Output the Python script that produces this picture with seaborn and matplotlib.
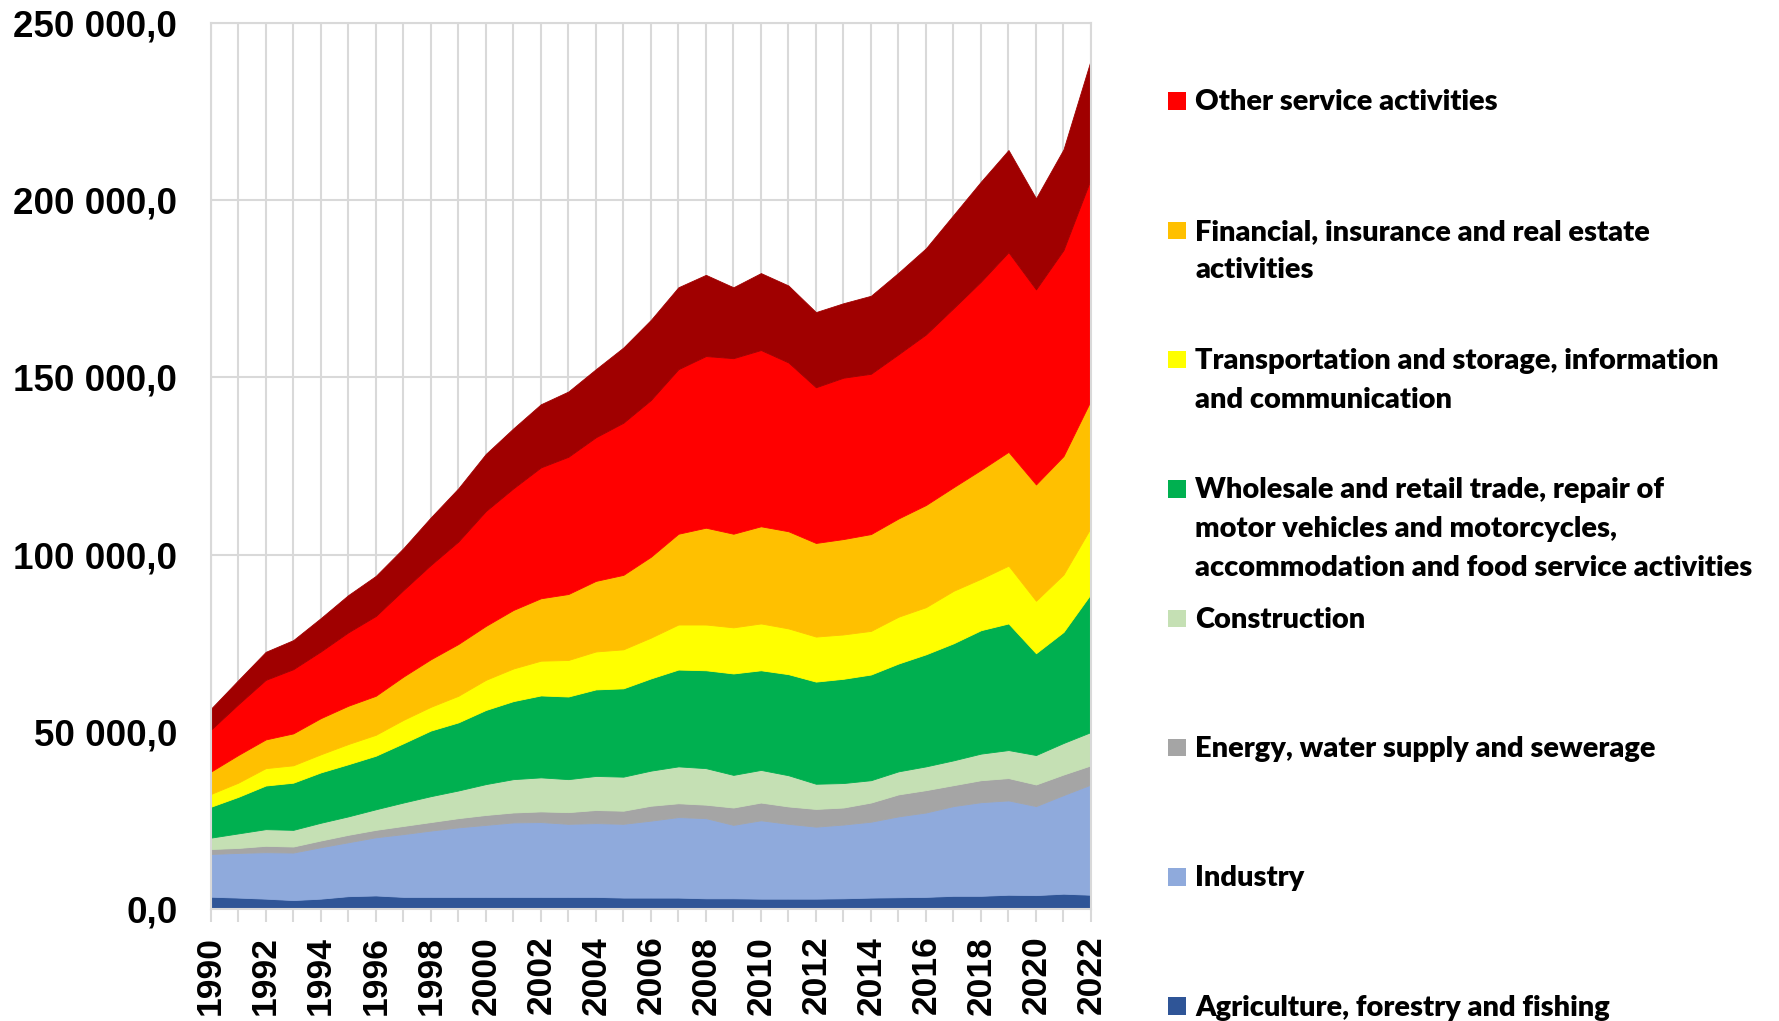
import numpy as np
import pandas as pd
import matplotlib
matplotlib.use("Agg")
import matplotlib.pyplot as plt
import seaborn as sns
from matplotlib.ticker import FuncFormatter
from matplotlib.patches import Rectangle

# ---------------- data ----------------
years = list(range(1990, 2023))

agriculture = [3550, 3300, 3000, 2600, 3000, 3700, 3900, 3500, 3500, 3500, 3500,
               3500, 3500, 3500, 3500, 3300, 3300, 3300, 3100, 3100, 3000, 3000,
               3000, 3100, 3300, 3400, 3500, 3800, 3800, 4100, 4000, 4400, 4100]
industry = [12050, 12600, 13100, 13400, 14500, 15200, 16400, 17700, 18700, 19600, 20300,
            21000, 21100, 20600, 20800, 20800, 21700, 22700, 22600, 20700, 22100, 21100,
            20300, 20800, 21400, 22800, 23800, 25300, 26400, 26600, 25100, 27800, 31100]
energy = [1400, 1400, 1800, 1700, 1900, 2100, 2100, 2300, 2400, 2600, 2800,
          2800, 3000, 3300, 3700, 3700, 4200, 3900, 3800, 4900, 5000, 4900,
          5000, 4800, 5400, 6200, 6300, 5900, 6200, 6300, 6100, 5800, 5400]
construction = [3200, 4100, 4700, 4700, 5000, 5200, 5800, 6600, 7300, 7800, 8700,
                9400, 9600, 9300, 9600, 9600, 9900, 10400, 10300, 9200, 9200, 8800,
                7100, 6900, 6300, 6500, 6700, 7000, 7500, 7900, 8300, 8900, 9400]
wholesale = [8700, 10300, 12300, 13300, 14200, 14700, 15100, 16700, 18500, 19200, 20900,
             22000, 23100, 23300, 24400, 24900, 26000, 27300, 27600, 28600, 28100, 28500,
             28800, 29400, 29800, 30400, 31600, 33000, 34800, 35700, 28700, 31300, 39000]
transport = [3600, 4000, 4900, 4900, 5100, 5700, 5900, 6600, 6700, 7500, 8500,
             9200, 9800, 10300, 10700, 11000, 11500, 12700, 12900, 13000, 13200, 12900,
             12700, 12500, 12300, 13200, 13300, 14800, 14500, 16300, 14800, 16200, 18700]
financial = [6300, 7800, 8100, 9000, 10200, 10800, 11000, 12200, 13400, 14600, 15200,
             16500, 17600, 18600, 19900, 21000, 22800, 25600, 27300, 26400, 27400, 27400,
             26400, 26900, 27300, 27700, 28800, 29200, 30700, 32100, 32800, 33400, 35900]
other_services = [11800, 14300, 16800, 18100, 18800, 20700, 22500, 24400, 26600, 28900, 32400,
                  34300, 36900, 38700, 40500, 42900, 44200, 46400, 48400, 49500, 49700, 47600,
                  43900, 45500, 45200, 46300, 48100, 50500, 53100, 56300, 55000, 58100, 62500]
top_layer = [5900, 6800, 7900, 8200, 9400, 10500, 11300, 11800, 13400, 15000, 16100,
             16900, 17800, 18400, 19200, 21200, 22600, 23100, 22900, 20000, 21700, 21700,
             21200, 21000, 22000, 23000, 24300, 26300, 28200, 28800, 25700, 28400, 33600]

series_names = [
    "Agriculture, forestry and fishing",
    "Industry",
    "Energy, water supply and sewerage",
    "Construction",
    "Wholesale and retail trade, repair of\nmotor vehicles and motorcycles,\naccommodation and food service activities",
    "Transportation and storage, information\nand communication",
    "Financial, insurance and real estate\nactivities",
    "Other service activities",
]
series_values = [agriculture, industry, energy, construction, wholesale,
                 transport, financial, other_services, top_layer]
colors = ["#2F5597", "#8FAADC", "#A5A5A5", "#C5E0B4", "#00B050",
          "#FFFF00", "#FFC000", "#FF0000", "#A00000"]

y_ticks = [0, 50000, 100000, 150000, 200000, 250000]

# ---------------- figure ----------------
sns.set_theme(style="white")
plt.rcParams["font.family"] = ["Liberation Sans", "DejaVu Sans"]

W, H = 1779, 1021
fig = plt.figure(figsize=(W / 100, H / 100), dpi=100)
ax = fig.add_axes([210.7 / W, (H - 909.3) / H, 880.3 / W, 886.6 / H])

polys = ax.stackplot(years, *series_values, colors=colors, linewidth=0.6, zorder=2)
for p, c in zip(polys, colors):
    p.set_edgecolor(c)

ax.set_xlim(years[0], years[-1])
ax.set_ylim(0, 250000)
ax.set_axisbelow(True)

ax.set_xticks(years)
ax.set_xticklabels([str(y) if (y % 2 == 0) else "" for y in years],
                   rotation=90, fontsize=25.5, fontweight="bold",
                   family=["Liberation Sans", "DejaVu Sans"])
ax.set_yticks(y_ticks)
ax.yaxis.set_major_formatter(FuncFormatter(
    lambda v, pos: f"{v:,.1f}".replace(",", " ").replace(".", ",")))
for lab in ax.get_yticklabels():
    lab.set_fontsize(26.5)
    lab.set_fontweight("bold")

grid_c = "#D9D9D9"
ax.grid(True, axis="both", color=grid_c, linewidth=1.5, zorder=0)
ax.tick_params(axis="x", which="major", direction="out", length=9,
               width=1.5, color=grid_c, pad=10, labelcolor="black", bottom=True)
ax.tick_params(axis="y", length=0, pad=24, labelcolor="black")
for s in ax.spines.values():
    s.set_color(grid_c)
    s.set_linewidth(1.5)
    s.set_zorder(3)

# ---------------- legend (manual, equally spaced slots) ----------------
legend_font = ["Lato", "DejaVu Sans"]
legend_weight = "heavy"
fig.canvas.draw()
renderer = fig.canvas.get_renderer()
probe = fig.text(0, 0, "Other service activities", fontsize=20,
                 fontweight=legend_weight, family=legend_font)
wpx = probe.get_window_extent(renderer).width
probe.remove()
lfs = 20 * 304.0 / wpx

slot0, slot_step, line_step = 100.0, 129.3, 38.6
legend_entries = list(zip(series_names[::-1], colors[-2::-1]))
cap_px = 0.72 * lfs * 100 / 72
for k, (name, col) in enumerate(legend_entries):
    yc = slot0 + slot_step * k
    fig.patches.append(Rectangle((1168.3 / W, 1 - (yc + 1 + 8.8) / H),
                                 17.5 / W, 17.5 / H, transform=fig.transFigure,
                                 facecolor=col, edgecolor="none"))
    for i, line in enumerate(name.split("\n")):
        yl = yc + line_step * i
        fig.text(1195 / W, 1 - (yl + cap_px / 2) / H, line, fontsize=lfs,
                 fontweight=legend_weight, family=legend_font, va="baseline",
                 ha="left", color="black")

fig.savefig("out.png", dpi=100)
